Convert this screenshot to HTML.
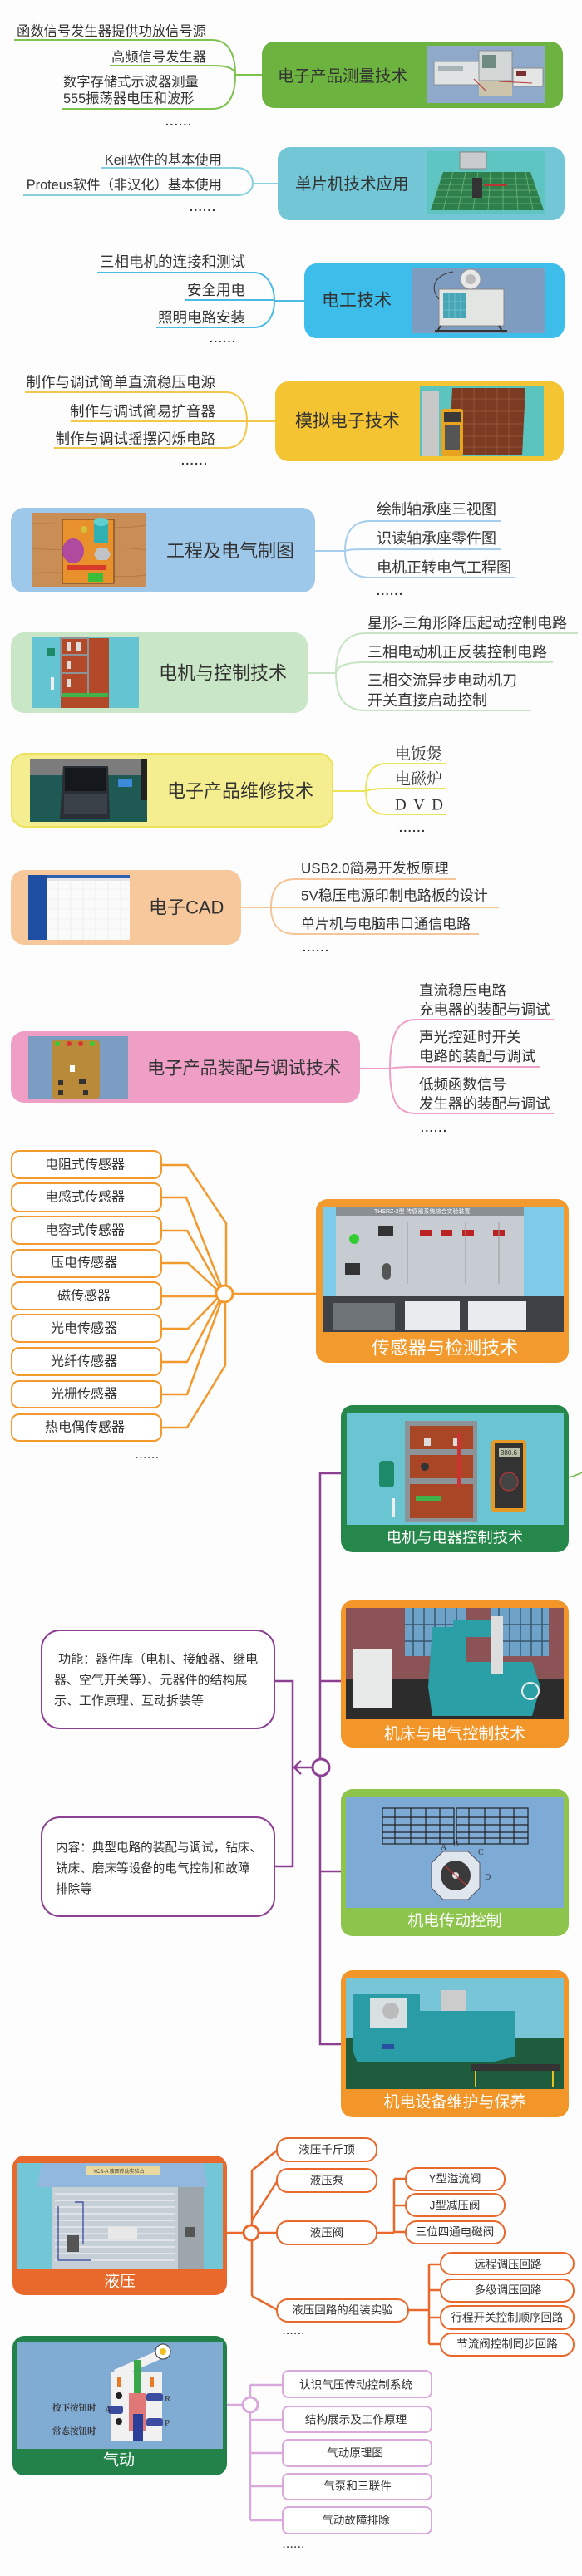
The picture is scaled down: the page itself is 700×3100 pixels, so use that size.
<!DOCTYPE html>
<html><head><meta charset="utf-8"><style>
html,body{margin:0;padding:0;background:#fdfdfd;}
svg{display:block;}
text{font-family:"Liberation Sans","Noto Sans CJK SC",sans-serif;fill:#333;}
.s{font-family:"Liberation Serif","Noto Serif CJK SC",serif;}
.w{fill:#fff;}
.dots{font-weight:bold;letter-spacing:1.5px;}
</style></head><body>
<svg width="700" height="3100" viewBox="0 0 700 3100" xmlns="http://www.w3.org/2000/svg">
<rect width="700" height="3100" fill="#fdfdfd"/>

<!-- ===== 1 电子产品测量技术 ===== -->
<g fill="none" stroke="#7dc24f" stroke-width="2">
<path d="M17 48 H255 C275 48 283 65 283 90"/>
<path d="M132 79 H258 C276 79 283 84 283 90"/>
<path d="M74 131 H255 C275 131 283 115 283 90"/>
<path d="M283 90 H316"/>
</g>
<rect x="315" y="50" width="362" height="80" rx="15" fill="#6cb43f"/>
<rect x="513" y="55" width="143" height="69" fill="#8ea9c9"/>
<rect x="522" y="74" width="56" height="28" fill="#dfe3e3" stroke="#8a8f92" stroke-width="1"/>
<rect x="527" y="79" width="30" height="6" fill="#a9b4b8"/>
<rect x="576" y="61" width="40" height="36" fill="#d3d8d6" stroke="#8a8f92"/>
<rect x="580" y="66" width="16" height="16" fill="#6f8a80"/>
<rect x="617" y="82" width="36" height="22" fill="#e4e6e6" stroke="#8a8f92"/>
<rect x="621" y="86" width="12" height="5" fill="#7a3030"/>
<rect x="576" y="98" width="40" height="17" fill="#cbc3aa"/>
<path d="M570 95 L585 110 M600 98 L640 100" stroke="#b33" stroke-width="1" fill="none"/>
<text x="334" y="92" font-size="19.5" dominant-baseline="central">电子产品测量技术</text>
<text x="248" y="38" font-size="16.3" text-anchor="end" dominant-baseline="central">函数信号发生器提供功放信号源</text>
<text x="248" y="69" font-size="16.3" text-anchor="end" dominant-baseline="central">高频信号发生器</text>
<text x="76" y="99" font-size="16.3" dominant-baseline="central">数字存储式示波器测量</text>
<text x="76" y="119" font-size="16.3" dominant-baseline="central">555振荡器电压和波形</text>
<text x="199" y="151" font-size="14" class="dots">......</text>

<!-- ===== 2 单片机技术应用 ===== -->
<g fill="none" stroke="#86cfdd" stroke-width="2">
<path d="M122 202 H285 C298 202 304 212 304 221"/>
<path d="M28 235 H285 C298 235 304 228 304 221"/>
<path d="M304 221 H335"/>
</g>
<rect x="334" y="177" width="345" height="88" rx="15" fill="#72c6d6"/>
<rect x="513" y="182" width="143" height="76" fill="#5fc5c3"/>
<polygon points="533,207 638,207 654,253 518,253" fill="#2f7f4c"/>
<g stroke="#6fb77a" stroke-width="0.8">
<path d="M528 215 H644 M525 222 H647 M523 229 H649 M521 237 H651 M519 245 H653"/>
<path d="M545 207 L533 253 M560 207 L551 253 M575 207 L569 253 M590 207 L587 253 M605 207 L605 253 M620 207 L623 253 M632 207 L641 253"/>
</g>
<rect x="553" y="183" width="32" height="20" fill="#c9cccf" stroke="#888"/>
<rect x="568" y="214" width="12" height="24" fill="#333"/>
<rect x="582" y="221" width="28" height="3" fill="#b33"/>
<text x="355" y="222" font-size="19.5" dominant-baseline="central">单片机技术应用</text>
<text x="267" y="193" font-size="16.3" text-anchor="end" dominant-baseline="central">Keil软件的基本使用</text>
<text x="267" y="223" font-size="16.3" text-anchor="end" dominant-baseline="central">Proteus软件（非汉化）基本使用</text>
<text x="228" y="254" font-size="14" class="dots">......</text>

<!-- ===== 3 电工技术 ===== -->
<g fill="none" stroke="#4bbbe5" stroke-width="2">
<path d="M117 328 H305 C322 328 330 345 330 362"/>
<path d="M222 361 H330"/>
<path d="M188 394 H305 C322 394 330 380 330 362"/>
<path d="M330 362 H367"/>
</g>
<rect x="366" y="317" width="313" height="90" rx="15" fill="#3dbde9"/>
<rect x="496" y="323" width="160" height="78" fill="#7d9cc0"/>
<circle cx="566" cy="336" r="12" fill="#e8e8e8" stroke="#999"/>
<circle cx="566" cy="336" r="6" fill="#bbb"/>
<rect x="528" y="348" width="78" height="44" fill="#e3e5e3" stroke="#888"/>
<rect x="533" y="353" width="28" height="30" fill="#46a6b6"/>
<path d="M540 353 V383 M547 353 V383 M554 353 V383 M533 363 H561 M533 373 H561" stroke="#7cc8d3" stroke-width="0.7"/>
<path d="M530 392 L525 400 M600 392 L605 400 M523 398 H610" stroke="#333" stroke-width="2" fill="none"/>
<path d="M528 360 C515 345 525 330 545 327" stroke="#333" fill="none"/>
<text x="387" y="362" font-size="21" dominant-baseline="central">电工技术</text>
<text x="295" y="315" font-size="17.5" text-anchor="end" dominant-baseline="central">三相电机的连接和测试</text>
<text x="295" y="349" font-size="17.5" text-anchor="end" dominant-baseline="central">安全用电</text>
<text x="295" y="382" font-size="17.5" text-anchor="end" dominant-baseline="central">照明电路安装</text>
<text x="252" y="412" font-size="14" class="dots">......</text>

<!-- ===== 4 模拟电子技术 ===== -->
<g fill="none" stroke="#f2c84a" stroke-width="2">
<path d="M30 472 H272 C290 472 297 490 297 507"/>
<path d="M85 507 H332"/>
<path d="M65 539 H272 C290 539 297 525 297 507"/>
</g>
<rect x="331" y="459" width="347" height="96" rx="16" fill="#f4c433"/>
<rect x="505" y="464" width="149" height="85" fill="#5cc4bf"/>
<polygon points="544,467 632,467 628,548 540,548" fill="#7b3a22"/>
<g stroke="#a05a3c" stroke-width="0.8">
<path d="M544 480 H632 M543 495 H631 M542 510 H630 M541 525 H629 M541 538 H629"/>
<path d="M556 467 V548 M570 467 V548 M584 467 V548 M598 467 V548 M612 467 V548"/>
</g>
<rect x="508" y="470" width="20" height="79" fill="#c8c8c8"/>
<rect x="531" y="492" width="26" height="57" rx="3" fill="#e8a420"/>
<rect x="534" y="496" width="20" height="12" fill="#3a3a3a"/>
<rect x="535" y="512" width="18" height="30" fill="#555"/>
<text x="355" y="507" font-size="21" dominant-baseline="central">模拟电子技术</text>
<text x="259" y="460" font-size="17.5" text-anchor="end" dominant-baseline="central">制作与调试简单直流稳压电源</text>
<text x="259" y="495" font-size="17.5" text-anchor="end" dominant-baseline="central">制作与调试简易扩音器</text>
<text x="259" y="528" font-size="17.5" text-anchor="end" dominant-baseline="central">制作与调试摇摆闪烁电路</text>
<text x="218" y="559" font-size="14" class="dots">......</text>

<!-- ===== 5 工程及电气制图 ===== -->
<g fill="none" stroke="#a6cdec" stroke-width="2">
<path d="M379 663 H415"/>
<path d="M415 663 C415 640 425 627 445 627 H603"/>
<path d="M415 663 C420 661 430 661 445 661 H603"/>
<path d="M415 663 C415 685 425 695 445 695 H620"/>
</g>
<rect x="13" y="611" width="366" height="102" rx="16" fill="#9ec8ea"/>
<rect x="39" y="617" width="136" height="89" fill="#c98e55"/>
<path d="M39 630 C80 628 130 640 175 632 M39 660 C90 665 130 655 175 662 M39 690 C80 685 130 698 175 692" stroke="#b57a45" fill="none"/>
<rect x="75" y="625" width="62" height="77" fill="#e8902b" stroke="#5a3a20"/>
<ellipse cx="88" cy="663" rx="13" ry="15" fill="#b04a9e"/>
<rect x="113" y="628" width="17" height="26" fill="#2fb0b2"/>
<ellipse cx="121.5" cy="628" rx="9" ry="5" fill="#5fd0d0"/>
<circle cx="101" cy="637" r="4" fill="#d4c13a"/>
<polygon points="117,660 129,660 133,667 129,674 117,674 113,667" fill="#bfc3c6"/>
<rect x="80" y="680" width="48" height="6" fill="#d83a2a"/>
<rect x="106" y="690" width="18" height="10" fill="#3bbf3b"/>
<text x="200" y="663" font-size="22" dominant-baseline="central">工程及电气制图</text>
<text x="453" y="613" font-size="18" dominant-baseline="central">绘制轴承座三视图</text>
<text x="453" y="648" font-size="18" dominant-baseline="central">识读轴承座零件图</text>
<text x="453" y="683" font-size="18" dominant-baseline="central">电机正转电气工程图</text>
<text x="453" y="716" font-size="14" class="dots">......</text>

<!-- ===== 6 电机与控制技术 ===== -->
<g fill="none" stroke="#c6e3c2" stroke-width="2">
<path d="M370 810 H404"/>
<path d="M404 810 C404 780 415 762 440 762 H695"/>
<path d="M404 810 C406 800 420 797 440 797 H665"/>
<path d="M404 810 C404 840 415 855 440 855 H637"/>
</g>
<rect x="13" y="761" width="357" height="97" rx="16" fill="#c9e6c6"/>
<rect x="38" y="767" width="129" height="85" fill="#64c4d2"/>
<rect x="73" y="768" width="58" height="84" fill="#b24a2a"/>
<rect x="73" y="768" width="33" height="70" fill="none" stroke="#8d9499" stroke-width="2"/>
<path d="M73 788 H106 M73 810 H106" stroke="#8d9499" stroke-width="2"/>
<rect x="80" y="773" width="5" height="10" fill="#ddd"/><rect x="92" y="773" width="5" height="10" fill="#ddd"/>
<rect x="80" y="795" width="5" height="10" fill="#ddd"/><rect x="80" y="817" width="5" height="10" fill="#ddd"/>
<rect x="74" y="834" width="56" height="5" fill="#3fb24a"/>
<rect x="56" y="780" width="10" height="10" fill="#1d8a6a"/>
<rect x="61" y="815" width="4" height="15" fill="#eee"/>
<text x="191" y="810" font-size="22" dominant-baseline="central">电机与控制技术</text>
<text x="442" y="750" font-size="18" dominant-baseline="central">星形-三角形降压起动控制电路</text>
<text x="442" y="785" font-size="18" dominant-baseline="central">三相电动机正反装控制电路</text>
<text x="442" y="819" font-size="18" dominant-baseline="central">三相交流异步电动机刀</text>
<text x="442" y="843" font-size="18" dominant-baseline="central">开关直接启动控制</text>

<!-- ===== 7 电子产品维修技术 ===== -->
<g fill="none" stroke="#ece35c" stroke-width="2">
<path d="M400 952 H440"/>
<path d="M440 952 C440 930 448 919 465 919 H537"/>
<path d="M440 952 C445 950 455 949 465 949 H537"/>
<path d="M440 952 C440 970 448 980 465 980 H537"/>
</g>
<rect x="14" y="907" width="386" height="88" rx="16" fill="#f5ee90" stroke="#ece25a" stroke-width="2"/>
<rect x="36" y="913" width="141" height="76" fill="#1e5a53"/>
<rect x="36" y="913" width="141" height="20" fill="#7c7c7c"/>
<polygon points="76,922 130,922 132,985 72,985" fill="#2a2f35"/>
<rect x="78" y="924" width="50" height="28" fill="#15181c"/>
<rect x="77" y="956" width="52" height="24" fill="#3a4048"/>
<rect x="142" y="938" width="17" height="9" fill="#3a8ad8"/>
<rect x="170" y="913" width="7" height="50" fill="#222"/>
<text x="201" y="952" font-size="22" dominant-baseline="central">电子产品维修技术</text>
<text x="475" y="908" font-size="19" class="s" dominant-baseline="central">电饭煲</text>
<text x="475" y="938" font-size="19" class="s" dominant-baseline="central">电磁炉</text>
<text x="475" y="969" font-size="19" class="s" dominant-baseline="central" textLength="58" lengthAdjust="spacing">D V D</text>
<text x="480" y="1001" font-size="14" class="dots">......</text>

<!-- ===== 8 电子CAD ===== -->
<g fill="none" stroke="#f5c597" stroke-width="2">
<path d="M290 1092 H326"/>
<path d="M326 1092 C326 1070 335 1058 355 1058 H548"/>
<path d="M326 1092 H600"/>
<path d="M326 1092 C326 1112 335 1124 355 1124 H576"/>
</g>
<rect x="13" y="1047" width="277" height="90" rx="16" fill="#f7c89c"/>
<rect x="34" y="1053" width="122" height="78" fill="#fafafa"/>
<rect x="34" y="1053" width="22" height="78" fill="#1f4fa3"/>
<rect x="56" y="1053" width="100" height="3" fill="#3060b0"/>
<rect x="56" y="1056" width="100" height="4" fill="#e6e6e6"/>
<g stroke="#e8e8e8" stroke-width="0.6">
<path d="M58 1070 H156 M58 1082 H156 M58 1094 H156 M58 1106 H156 M58 1118 H156"/>
<path d="M70 1062 V1131 M85 1062 V1131 M100 1062 V1131 M115 1062 V1131 M130 1062 V1131 M145 1062 V1131"/>
</g>
<text x="179" y="1092" font-size="22" dominant-baseline="central">电子CAD</text>
<text x="362" y="1045" font-size="17" dominant-baseline="central">USB2.0简易开发板原理</text>
<text x="362" y="1078" font-size="17" dominant-baseline="central">5V稳压电源印制电路板的设计</text>
<text x="362" y="1112" font-size="17" dominant-baseline="central">单片机与电脑串口通信电路</text>
<text x="364" y="1145" font-size="14" class="dots">......</text>

<!-- ===== 9 电子产品装配与调试技术 ===== -->
<g fill="none" stroke="#ee9fc8" stroke-width="2">
<path d="M433 1286 H469"/>
<path d="M469 1286 C469 1245 478 1227 500 1227 H666"/>
<path d="M469 1286 C472 1285 485 1284 500 1284 H650"/>
<path d="M469 1286 C469 1325 478 1340 500 1340 H666"/>
</g>
<rect x="13" y="1241" width="420" height="86" rx="16" fill="#ef9fc6"/>
<rect x="34" y="1247" width="120" height="75" fill="#7b9dc3"/>
<rect x="62" y="1252" width="58" height="70" rx="4" fill="#b98a3a"/>
<circle cx="69" cy="1256" r="3" fill="#3c3"/><circle cx="83" cy="1256" r="3" fill="#d33"/><circle cx="97" cy="1256" r="3" fill="#d33"/><circle cx="111" cy="1256" r="3" fill="#3c3"/>
<rect x="84" y="1282" width="6" height="8" fill="#fff"/>
<rect x="70" y="1300" width="6" height="6" fill="#333"/><rect x="95" y="1298" width="8" height="6" fill="#333"/><rect x="70" y="1312" width="6" height="6" fill="#333"/><rect x="100" y="1312" width="6" height="6" fill="#333"/>
<text x="177" y="1286" font-size="21.2" dominant-baseline="central">电子产品装配与调试技术</text>
<text x="504" y="1192" font-size="17.5" dominant-baseline="central">直流稳压电路</text>
<text x="504" y="1215" font-size="17.5" dominant-baseline="central">充电器的装配与调试</text>
<text x="504" y="1248" font-size="17.5" dominant-baseline="central">声光控延时开关</text>
<text x="504" y="1271" font-size="17.5" dominant-baseline="central">电路的装配与调试</text>
<text x="504" y="1305" font-size="17.5" dominant-baseline="central">低频函数信号</text>
<text x="504" y="1328" font-size="17.5" dominant-baseline="central">发生器的装配与调试</text>
<text x="506" y="1362" font-size="14" class="dots">......</text>

<!-- ===== 10 传感器 ===== -->
<g fill="none" stroke="#f39a2e" stroke-width="2.5">
<path d="M194 1402 H225 L272 1472 V1547"/>
<path d="M194 1441 H224 L266 1548"/>
<path d="M194 1481 H225 L264 1550"/>
<path d="M194 1520 H226 L262 1553"/>
<path d="M194 1560 H260"/>
<path d="M194 1599 H226 L262 1562"/>
<path d="M194 1639 H225 L264 1565"/>
<path d="M194 1678 H225 L266 1566"/>
<path d="M194 1718 H225 L271 1643 V1567"/>
<path d="M280 1557 H382"/>
</g>
<circle cx="270" cy="1557" r="10" fill="#fff" stroke="#f39a2e" stroke-width="3"/>
<g fill="#fff" stroke="#f39a2e" stroke-width="2">
<rect x="14" y="1385" width="180" height="33" rx="9"/>
<rect x="14" y="1424" width="180" height="34" rx="9"/>
<rect x="14" y="1464" width="180" height="33" rx="9"/>
<rect x="14" y="1504" width="180" height="33" rx="9"/>
<rect x="14" y="1543" width="180" height="33" rx="9"/>
<rect x="14" y="1582" width="180" height="33" rx="9"/>
<rect x="14" y="1622" width="180" height="33" rx="9"/>
<rect x="14" y="1662" width="180" height="32" rx="9"/>
<rect x="14" y="1702" width="180" height="32" rx="9"/>
</g>
<g font-size="16" text-anchor="middle" dominant-baseline="central">
<text x="102" y="1402" dominant-baseline="central">电阻式传感器</text>
<text x="102" y="1441" dominant-baseline="central">电感式传感器</text>
<text x="102" y="1481" dominant-baseline="central">电容式传感器</text>
<text x="101" y="1520" dominant-baseline="central">压电传感器</text>
<text x="101" y="1560" dominant-baseline="central">磁传感器</text>
<text x="101" y="1599" dominant-baseline="central">光电传感器</text>
<text x="101" y="1639" dominant-baseline="central">光纤传感器</text>
<text x="101" y="1678" dominant-baseline="central">光栅传感器</text>
<text x="102" y="1718" dominant-baseline="central">热电偶传感器</text>
</g>
<text x="163" y="1755" font-size="12" class="dots">......</text>
<rect x="380" y="1443" width="304" height="197" rx="14" fill="#f39a2e"/>
<rect x="388" y="1453" width="290" height="150" fill="#7dcbe8"/>
<rect x="404" y="1453" width="226" height="115" fill="#c6ccd1"/>
<rect x="404" y="1453" width="226" height="10" fill="#8a8f94"/>
<text x="450" y="1460" font-size="7" class="w">THSRZ-2型 传感器系统综合实验装置</text>
<rect x="455" y="1475" width="18" height="12" fill="#333"/>
<rect x="505" y="1480" width="14" height="8" fill="#b22"/><rect x="530" y="1480" width="14" height="8" fill="#b22"/><rect x="556" y="1480" width="14" height="8" fill="#b22"/><rect x="593" y="1480" width="14" height="8" fill="#b22"/>
<circle cx="426" cy="1491" r="6" fill="#3c3"/>
<rect x="415" y="1520" width="18" height="14" fill="#333"/>
<rect x="460" y="1520" width="10" height="20" rx="5" fill="#555"/>
<path d="M490 1470 V1545 M560 1470 V1545 M600 1470 V1545" stroke="#999"/>
<rect x="388" y="1560" width="290" height="43" fill="#3e4246"/>
<rect x="400" y="1568" width="75" height="32" fill="#6e7378"/>
<rect x="487" y="1566" width="66" height="34" fill="#e8ecee"/>
<rect x="563" y="1566" width="70" height="34" fill="#e8ecee"/>
<text x="535" y="1622" font-size="22" class="w" text-anchor="middle" dominant-baseline="central">传感器与检测技术</text>

<!-- ===== 11 purple tree ===== -->
<g fill="none" stroke="#8c3f93" stroke-width="2.5">
<path d="M411 1773 H385 V2460 H411"/>
<path d="M385 2023 H411"/>
<path d="M385 2252 H411"/>
<path d="M376 2127 H352"/>
<path d="M362 2119 L354 2127 L362 2135"/>
<path d="M330 2023 H352 V2246 H330"/>
</g>
<circle cx="386" cy="2127" r="10" fill="#fff" stroke="#8c3f93" stroke-width="3"/>
<rect x="50" y="1962" width="280" height="118" rx="22" fill="#fff" stroke="#8c3f93" stroke-width="2"/>
<text x="66" y="1997" font-size="15" dominant-baseline="central" xml:space="preserve"> 功能：器件库（电机、接触器、继电</text>
<text x="65" y="2022" font-size="15" dominant-baseline="central">器、空气开关等）、元器件的结构展</text>
<text x="65" y="2047" font-size="15" dominant-baseline="central">示、工作原理、互动拆装等</text>
<rect x="50" y="2187" width="280" height="119" rx="22" fill="#fff" stroke="#8c3f93" stroke-width="2"/>
<text x="67" y="2224" font-size="14.6" dominant-baseline="central">内容：典型电路的装配与调试，钻床、</text>
<text x="67" y="2249" font-size="14.6" dominant-baseline="central">铣床、磨床等设备的电气控制和故障</text>
<text x="67" y="2274" font-size="14.6" dominant-baseline="central">排除等</text>

<!-- 电机与电器控制技术 -->
<path d="M684 1778 Q692 1776 700 1772" stroke="#6cb43f" fill="none" stroke-width="1.5"/>
<rect x="410" y="1691" width="274" height="177" rx="14" fill="#25884a"/>
<rect x="417" y="1701" width="261" height="134" fill="#6ac5d3"/>
<rect x="487" y="1710" width="87" height="122" fill="#8d9499"/>
<rect x="493" y="1716" width="76" height="28" fill="#a84626"/>
<rect x="493" y="1751" width="76" height="28" fill="#a84626"/>
<rect x="493" y="1786" width="76" height="41" fill="#a84626"/>
<rect x="510" y="1730" width="8" height="10" fill="#ddd"/><rect x="545" y="1730" width="6" height="10" fill="#ddd"/>
<circle cx="511" cy="1765" r="5" fill="#333"/>
<rect x="500" y="1800" width="30" height="6" fill="#3fb24a"/>
<rect x="550" y="1725" width="4" height="65" fill="#c33"/>
<rect x="591" y="1733" width="42" height="87" rx="4" fill="#e49a25"/>
<rect x="595" y="1737" width="34" height="78" fill="#333"/>
<rect x="600" y="1742" width="25" height="11" fill="#b8c0a8"/>
<text x="612" y="1751" font-size="8" text-anchor="middle" fill="#222">380.6</text>
<circle cx="612" cy="1783" r="11" fill="#444" stroke="#c33"/>
<rect x="456" y="1758" width="18" height="32" rx="4" fill="#1d8a6a"/>
<rect x="471" y="1803" width="4" height="22" fill="#eee"/>
<text x="547" y="1850" font-size="18.3" class="w" text-anchor="middle" dominant-baseline="central">电机与电器控制技术</text>

<!-- 机床与电气控制技术 -->
<rect x="410" y="1926" width="274" height="177" rx="14" fill="#f2962a"/>
<rect x="416" y="1935" width="262" height="134" fill="#2c2c2c"/>
<rect x="416" y="1935" width="262" height="85" fill="#8b5356"/>
<rect x="487" y="1935" width="73" height="58" fill="#6fa2c8"/>
<rect x="590" y="1935" width="70" height="58" fill="#6fa2c8"/>
<path d="M497 1935 V1993 M510 1935 V1993 M523 1935 V1993 M536 1935 V1993 M549 1935 V1993 M487 1955 H560 M487 1975 H560 M600 1935 V1993 M613 1935 V1993 M626 1935 V1993 M639 1935 V1993 M652 1935 V1993 M590 1955 H660 M590 1975 H660" stroke="#37566e" stroke-width="1.5"/>
<polygon points="520,1958 560,1958 560,2000 640,2000 650,2030 640,2065 520,2065 515,2030" fill="#2a9fa6"/>
<rect x="545" y="1950" width="50" height="20" fill="#2a9fa6"/>
<rect x="590" y="1945" width="15" height="70" fill="#ddd"/>
<circle cx="638" cy="2035" r="10" fill="none" stroke="#eee" stroke-width="2"/>
<rect x="424" y="1985" width="48" height="70" fill="#e8eaea"/>
<text x="547" y="2087" font-size="18.9" class="w" text-anchor="middle" dominant-baseline="central">机床与电气控制技术</text>

<!-- 机电传动控制 -->
<rect x="410" y="2153" width="274" height="177" rx="14" fill="#8cc44c"/>
<rect x="416" y="2163" width="262" height="133" fill="#7eaad6"/>
<g fill="none" stroke="#222" stroke-width="1.2">
<rect x="460" y="2176" width="86" height="43"/>
<rect x="549" y="2176" width="86" height="43"/>
<path d="M460 2187 H546 M460 2196 H546 M460 2205 H546 M460 2212 H546 M549 2187 H635 M549 2196 H635 M549 2205 H635 M549 2212 H635"/>
<path d="M475 2176 V2219 M494 2176 V2219 M512 2176 V2219 M529 2176 V2219 M564 2176 V2219 M583 2176 V2219 M601 2176 V2219 M618 2176 V2219"/>
</g>
<polygon points="533,2228 563,2228 577,2242 577,2272 563,2286 533,2286 519,2272 519,2242" fill="#dfe6ee" stroke="#556" stroke-width="1"/>
<circle cx="548" cy="2257" r="18" fill="#3a3a3a"/>
<circle cx="548" cy="2257" r="4" fill="#ddd"/>
<path d="M535 2245 L561 2269" stroke="#c33" stroke-width="1"/>
<text x="530" y="2226" font-size="10" class="s" fill="#222">A</text>
<text x="545" y="2222" font-size="10" class="s" fill="#222">B</text>
<text x="575" y="2232" font-size="10" class="s" fill="#222">C</text>
<text x="583" y="2262" font-size="10" class="s" fill="#222">D</text>
<text x="547" y="2312" font-size="18.9" class="w" text-anchor="middle" dominant-baseline="central">机电传动控制</text>

<!-- 机电设备维护与保养 -->
<rect x="410" y="2371" width="274" height="177" rx="14" fill="#f2962a"/>
<rect x="416" y="2380" width="262" height="134" fill="#1e5c3d"/>
<rect x="416" y="2380" width="262" height="72" fill="#77c5d6"/>
<polygon points="425,2400 505,2400 505,2420 620,2420 620,2475 590,2482 430,2482 425,2470" fill="#2a9ca6"/>
<rect x="445" y="2405" width="45" height="35" fill="#d9e0e2"/>
<circle cx="470" cy="2420" r="10" fill="#bbb"/>
<rect x="530" y="2395" width="30" height="25" fill="#ccc"/>
<rect x="566" y="2484" width="107" height="8" fill="#333"/>
<path d="M572 2492 V2512 M665 2492 V2512" stroke="#e8c020" stroke-width="2"/>
<rect x="460" y="2460" width="14" height="6" fill="#2b4fa0"/>
<text x="547" y="2530" font-size="19" class="w" text-anchor="middle" dominant-baseline="central">机电设备维护与保养</text>

<!-- ===== 12 液压 ===== -->
<g fill="none" stroke="#e9682b" stroke-width="2.5">
<path d="M273 2687 H292"/>
<path d="M310 2687 H334"/>
<path d="M303 2612 V2678 M303 2696 V2763"/>
<path d="M303 2612 L334 2587"/>
<path d="M303 2672 L334 2624"/>
<path d="M303 2763 L334 2780"/>
<path d="M453 2687 H474 M474 2622 V2687 M474 2622 H488 M474 2654 H488 M474 2686 H488"/>
<path d="M491 2780 H516 M516 2725 V2821 M516 2725 H530 M516 2756 H530 M516 2789 H530 M516 2821 H530"/>
</g>
<circle cx="302" cy="2687" r="9" fill="#fff" stroke="#e9682b" stroke-width="3"/>
<g fill="#fff" stroke="#e9682b" stroke-width="2">
<rect x="333" y="2573" width="120" height="28" rx="13"/>
<rect x="333" y="2610" width="120" height="28" rx="13"/>
<rect x="333" y="2673" width="120" height="28" rx="13"/>
<rect x="333" y="2767" width="158" height="27" rx="13"/>
<rect x="488" y="2609" width="119" height="27" rx="13"/>
<rect x="488" y="2640" width="119" height="27" rx="13"/>
<rect x="488" y="2673" width="119" height="27" rx="13"/>
<rect x="530" y="2711" width="160" height="26" rx="13"/>
<rect x="530" y="2743" width="160" height="27" rx="13"/>
<rect x="530" y="2775" width="160" height="28" rx="13"/>
<rect x="530" y="2808" width="160" height="27" rx="13"/>
</g>
<g font-size="13.5" text-anchor="middle">
<text x="393" y="2587" dominant-baseline="central">液压千斤顶</text>
<text x="393" y="2624" dominant-baseline="central">液压泵</text>
<text x="393" y="2687" dominant-baseline="central">液压阀</text>
<text x="412" y="2780" dominant-baseline="central">液压回路的组装实验</text>
<text x="547" y="2622" dominant-baseline="central">Y型溢流阀</text>
<text x="547" y="2654" dominant-baseline="central">J型减压阀</text>
<text x="547" y="2686" dominant-baseline="central">三位四通电磁阀</text>
<text x="611" y="2725" dominant-baseline="central">远程调压回路</text>
<text x="611" y="2756" dominant-baseline="central">多级调压回路</text>
<text x="610" y="2789" dominant-baseline="central">行程开关控制顺序回路</text>
<text x="610" y="2821" dominant-baseline="central">节流阀控制同步回路</text>
</g>
<text x="340" y="2809" font-size="11" class="dots">......</text>
<rect x="15" y="2594" width="258" height="168" rx="14" fill="#e9682b"/>
<rect x="21" y="2603" width="247" height="128" fill="#72c6d6"/>
<polygon points="50,2603 245,2603 250,2632 45,2632" fill="#93b8de"/>
<rect x="103" y="2607" width="89" height="10" fill="#e8d9a0"/>
<text x="112" y="2615" font-size="6" fill="#333">YCS-A 液压传动实验台</text>
<rect x="63" y="2632" width="182" height="99" fill="#c7cfd6"/>
<g stroke="#e8ecef" stroke-width="1.5">
<path d="M66 2640 H210 M66 2648 H210 M66 2656 H210 M66 2664 H210 M66 2672 H210 M66 2680 H210 M66 2688 H210 M66 2696 H210 M66 2704 H210 M66 2712 H210 M66 2720 H210"/>
</g>
<rect x="214" y="2632" width="31" height="99" fill="#9ea6ad"/>
<rect x="223" y="2680" width="12" height="12" fill="#555"/>
<path d="M70 2655 V2720 H110 M90 2650 H100 V2700" stroke="#2b3f9a" fill="none" stroke-width="1.2"/>
<rect x="80" y="2690" width="15" height="20" fill="#555"/>
<rect x="130" y="2680" width="35" height="15" fill="#e8e8e8"/>
<text x="144" y="2746" font-size="19" class="w" text-anchor="middle" dominant-baseline="central">液压</text>

<!-- ===== 13 气动 ===== -->
<g fill="none" stroke="#d9a9dc" stroke-width="2.5">
<path d="M273 2894 H292"/>
<path d="M301 2870 V2885 M301 2903 V3033"/>
<path d="M301 2870 H340 M301 2912 H340 M301 2952 H340 M301 2992 H340 M301 3033 H340"/>
</g>
<circle cx="301" cy="2894" r="9" fill="#fff" stroke="#d9a9dc" stroke-width="3"/>
<g fill="#fff" stroke="#d9a9dc" stroke-width="2">
<rect x="340" y="2853" width="179" height="32" rx="7"/>
<rect x="340" y="2896" width="179" height="31" rx="7"/>
<rect x="340" y="2936" width="179" height="32" rx="7"/>
<rect x="340" y="2977" width="179" height="31" rx="7"/>
<rect x="340" y="3017" width="179" height="32" rx="7"/>
</g>
<g font-size="13.6" text-anchor="middle">
<text x="428" y="2870" dominant-baseline="central">认识气压传动控制系统</text>
<text x="428" y="2912" dominant-baseline="central">结构展示及工作原理</text>
<text x="427" y="2952" dominant-baseline="central">气动原理图</text>
<text x="430" y="2992" dominant-baseline="central">气泵和三联件</text>
<text x="428" y="3033" dominant-baseline="central">气动故障排除</text>
</g>
<text x="340" y="3066" font-size="11" class="dots">......</text>
<rect x="15" y="2811" width="258" height="168" rx="14" fill="#23824a"/>
<rect x="21" y="2819" width="247" height="128" fill="#80acd4"/>
<rect x="134" y="2855" width="61" height="82" fill="#f1f1f1"/>
<polygon points="137,2852 196,2826 200,2836 141,2862" fill="#f1f1f1"/>
<circle cx="196" cy="2830" r="9" fill="#fff" stroke="#333"/>
<circle cx="196" cy="2830" r="4" fill="#f0c020"/>
<rect x="161" y="2840" width="8" height="40" fill="#3aa64a"/>
<rect x="155" y="2880" width="20" height="45" fill="#e07878"/>
<rect x="160" y="2905" width="12" height="32" fill="#2b3f9a"/>
<rect x="141" y="2860" width="5" height="12" fill="#e87a2a"/><rect x="180" y="2860" width="5" height="12" fill="#e87a2a"/>
<circle cx="143" cy="2883" r="4" fill="#222"/><circle cx="143" cy="2914" r="4" fill="#222"/>
<rect x="176" y="2880" width="20" height="10" rx="3" fill="#3c4ca0"/>
<rect x="176" y="2910" width="20" height="10" rx="3" fill="#3c4ca0"/>
<rect x="130" y="2895" width="18" height="10" rx="3" fill="#3c4ca0"/>
<text x="198" y="2890" font-size="11" class="s" fill="#a02828">R</text>
<text x="126" y="2903" font-size="11" class="s" fill="#a02828">A</text>
<text x="198" y="2919" font-size="11" class="s" fill="#a02828">P</text>
<text x="63" y="2901" font-size="10.5" class="s" fill="#8a2a2a" font-weight="bold">按下按钮时</text>
<text x="63" y="2929" font-size="10.5" class="s" fill="#8a2a2a" font-weight="bold">常态按钮时</text>
<text x="143" y="2961" font-size="19" class="w" text-anchor="middle" dominant-baseline="central">气动</text>
</svg>
</body></html>
